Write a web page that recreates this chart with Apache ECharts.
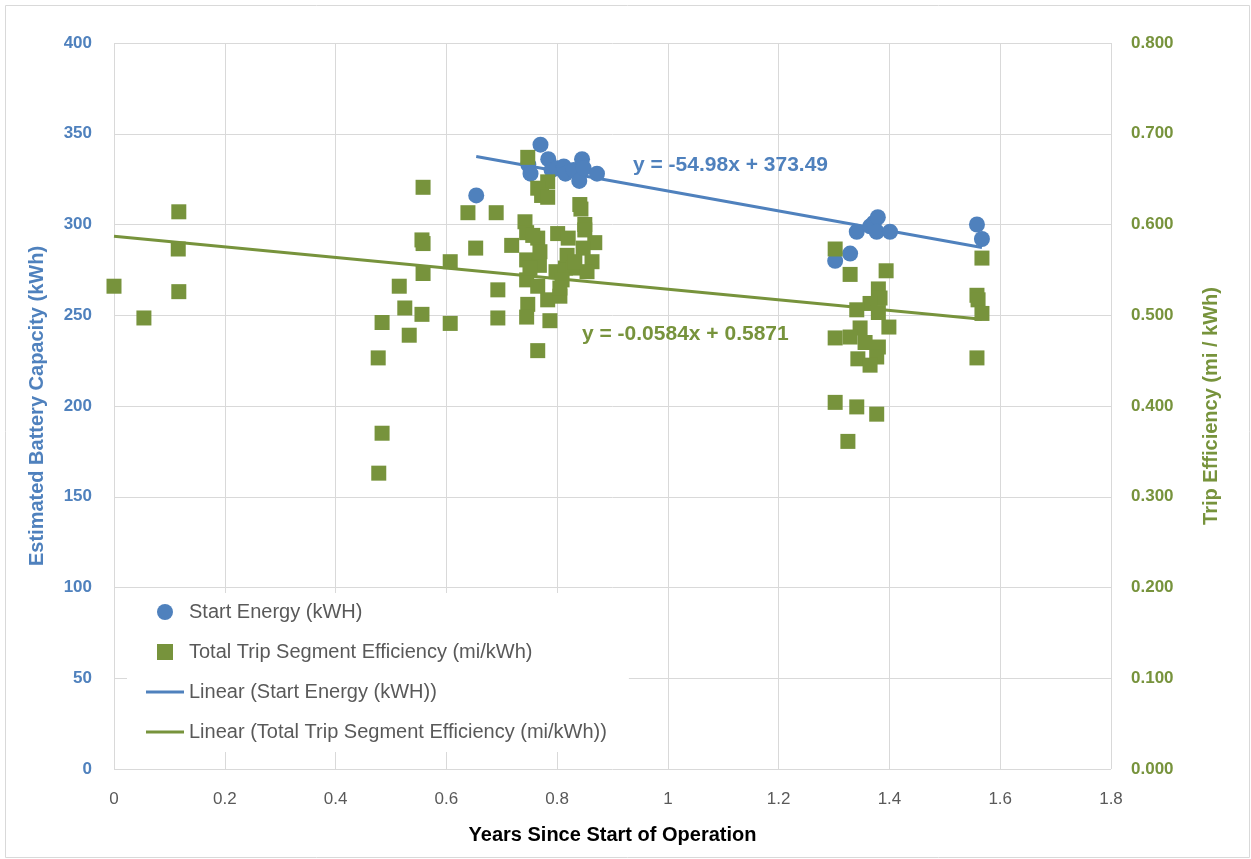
<!DOCTYPE html>
<html>
<head>
<meta charset="utf-8">
<script src="https://cdn.jsdelivr.net/npm/echarts@6/dist/echarts.min.js"></script>
<style>
  html, body { margin: 0; padding: 0; background: #fff; }
  #chart { width: 1251px; height: 859px; }
</style>
</head>
<body>
<div id="chart"></div>
<script>
// start energy (kWH) vs years
var startEnergy = [
  [0.654, 316], [0.748, 333], [0.752, 328], [0.770, 344], [0.784, 336], [0.790, 330],
  [0.800, 331], [0.812, 332], [0.815, 328], [0.830, 330], [0.840, 324], [0.845, 336],
  [0.848, 331], [0.872, 328],
  [1.302, 280], [1.329, 284], [1.341, 296], [1.365, 299], [1.372, 301], [1.379, 304],
  [1.377, 296], [1.401, 296], [1.558, 300], [1.567, 292]
];
// total trip segment efficiency (mi/kWh) vs years
var tripEff = [
  [0.000, 0.532], [0.054, 0.497], [0.117, 0.614], [0.116, 0.573], [0.117, 0.526],
  [0.558, 0.641], [0.639, 0.613], [0.556, 0.583], [0.558, 0.579], [0.653, 0.574],
  [0.607, 0.559], [0.558, 0.546], [0.515, 0.532], [0.525, 0.508], [0.556, 0.501],
  [0.484, 0.492], [0.607, 0.491], [0.533, 0.478], [0.477, 0.453], [0.484, 0.370],
  [0.478, 0.326], [0.690, 0.613], [0.693, 0.528], [0.693, 0.497], [0.718, 0.577],
  [0.747, 0.674], [0.783, 0.647], [0.765, 0.640], [0.772, 0.632], [0.783, 0.630],
  [0.841, 0.622], [0.843, 0.617], [0.742, 0.603], [0.850, 0.600], [0.745, 0.591],
  [0.765, 0.585], [0.801, 0.590], [0.820, 0.585], [0.868, 0.580], [0.863, 0.559],
  [0.745, 0.561], [0.768, 0.555], [0.798, 0.548], [0.815, 0.552], [0.745, 0.539],
  [0.765, 0.532], [0.747, 0.512], [0.783, 0.517], [0.805, 0.521], [0.745, 0.498],
  [0.787, 0.494], [0.765, 0.461], [0.756, 0.588], [0.769, 0.570], [0.818, 0.566],
  [0.847, 0.574], [0.751, 0.552], [0.829, 0.552], [0.854, 0.548], [0.809, 0.539],
  [0.805, 0.530], [0.832, 0.559], [0.850, 0.594],
  [1.302, 0.573], [1.329, 0.545], [1.394, 0.549], [1.380, 0.529], [1.383, 0.519],
  [1.365, 0.513], [1.341, 0.506], [1.380, 0.503], [1.399, 0.487], [1.302, 0.475],
  [1.347, 0.486], [1.329, 0.476], [1.356, 0.470], [1.380, 0.465], [1.377, 0.454],
  [1.343, 0.452], [1.365, 0.445], [1.302, 0.404], [1.341, 0.399], [1.377, 0.391],
  [1.325, 0.361],
  [1.567, 0.563], [1.558, 0.522], [1.560, 0.517], [1.567, 0.502], [1.558, 0.453]
];
// trendline end points
var trendEnergy = [[0.654, 337.5], [1.567, 287.3]];
var trendEff = [[0.000, 0.5871], [1.567, 0.4956]];
var eqEnergy = 'y = -54.98x + 373.49';
var eqEff = 'y = -0.0584x + 0.5871';

var blue = '#4F81BD';
var green = '#77933C';
var font = 'Liberation Sans';

var chart = echarts.init(document.getElementById('chart'));
var option = {
  animation: false,
  textStyle: { fontFamily: font },
  grid: { left: 114, right: 140, top: 43, bottom: 90 },
  xAxis: {
    type: 'value', min: 0, max: 1.8, interval: 0.2,
    name: 'Years Since Start of Operation',
    nameLocation: 'middle', nameGap: 56,
    nameTextStyle: { color: '#000', fontWeight: 'bold', fontSize: 20, fontFamily: font },
    axisLine: { show: false },
    axisTick: { show: false },
    axisLabel: {
      color: '#595959', fontSize: 17, margin: 22,
      formatter: function (v) { return String(Math.round(v * 10) / 10); }
    },
    splitLine: { show: true, lineStyle: { color: '#D9D9D9', width: 1 } }
  },
  yAxis: [
    {
      type: 'value', min: 0, max: 400, interval: 50,
      name: 'Estimated Battery Capacity (kWh)',
      nameLocation: 'middle', nameGap: 67,
      nameTextStyle: { color: blue, fontWeight: 'bold', fontSize: 20, fontFamily: font },
      axisLine: { show: false },
      axisTick: { show: false },
      axisLabel: { color: blue, fontWeight: 'bold', fontSize: 17, margin: 22 },
      splitLine: { show: true, lineStyle: { color: '#D9D9D9', width: 1 } }
    },
    {
      type: 'value', min: 0, max: 0.8, interval: 0.1,
      name: 'Trip Efficiency (mi / kWh)',
      nameLocation: 'middle', nameGap: 90,
      nameTextStyle: { color: green, fontWeight: 'bold', fontSize: 20, fontFamily: font },
      axisLine: { show: false },
      axisTick: { show: false },
      axisLabel: {
        color: green, fontWeight: 'bold', fontSize: 17, margin: 20,
        formatter: function (v) { return v.toFixed(3); }
      },
      splitLine: { show: false }
    }
  ],
  legend: {
    orient: 'vertical',
    left: 127, top: 593,
    padding: [9, 22, 10, 19],
    backgroundColor: '#fff',
    itemWidth: 38, itemHeight: 16, itemGap: 20,
    symbolKeepAspect: true,
    textStyle: { color: '#595959', fontSize: 20, fontFamily: font },
    data: [
      { name: 'Start Energy (kWH)', icon: 'circle' },
      { name: 'Total Trip Segment Efficiency (mi/kWh)', icon: 'path://M0,0 h10 v10 h-10 z' },
      { name: 'Linear (Start Energy (kWH))', icon: 'path://M0,0 h38 v3 h-38 z' },
      { name: 'Linear (Total Trip Segment Efficiency (mi/kWh))', icon: 'path://M0,0 h38 v3 h-38 z' }
    ]
  },
  series: [
    {
      name: 'Linear (Start Energy (kWH))', type: 'line', yAxisIndex: 0,
      data: trendEnergy, symbol: 'none', silent: true, z: 1,
      lineStyle: { color: blue, width: 3 }, itemStyle: { color: blue }
    },
    {
      name: 'Linear (Total Trip Segment Efficiency (mi/kWh))', type: 'line', yAxisIndex: 1,
      data: trendEff, symbol: 'none', silent: true, z: 1,
      lineStyle: { color: green, width: 3 }, itemStyle: { color: green }
    },
    {
      name: 'Start Energy (kWH)', type: 'scatter', yAxisIndex: 0,
      data: startEnergy, symbol: 'circle', symbolSize: 16, z: 3,
      itemStyle: { color: blue, opacity: 1 }
    },
    {
      name: 'Total Trip Segment Efficiency (mi/kWh)', type: 'scatter', yAxisIndex: 1,
      data: tripEff, symbol: 'rect', symbolSize: 15, z: 4,
      itemStyle: { color: green, opacity: 1 }
    }
  ],
  graphic: [
    {
      type: 'rect', left: 3, top: 3, z: -10, silent: true,
      shape: { width: 1244, height: 852 },
      style: { fill: 'none', stroke: '#D9D9D9', lineWidth: 1 }
    },
    {
      type: 'text', left: 633, top: 155, z: 10,
      style: { text: eqEnergy, fill: blue, font: 'bold 21px ' + font }
    },
    {
      type: 'text', left: 582, top: 324, z: 10,
      style: { text: eqEff, fill: green, font: 'bold 21px ' + font }
    }
  ]
};
chart.setOption(option);
</script>
</body>
</html>
